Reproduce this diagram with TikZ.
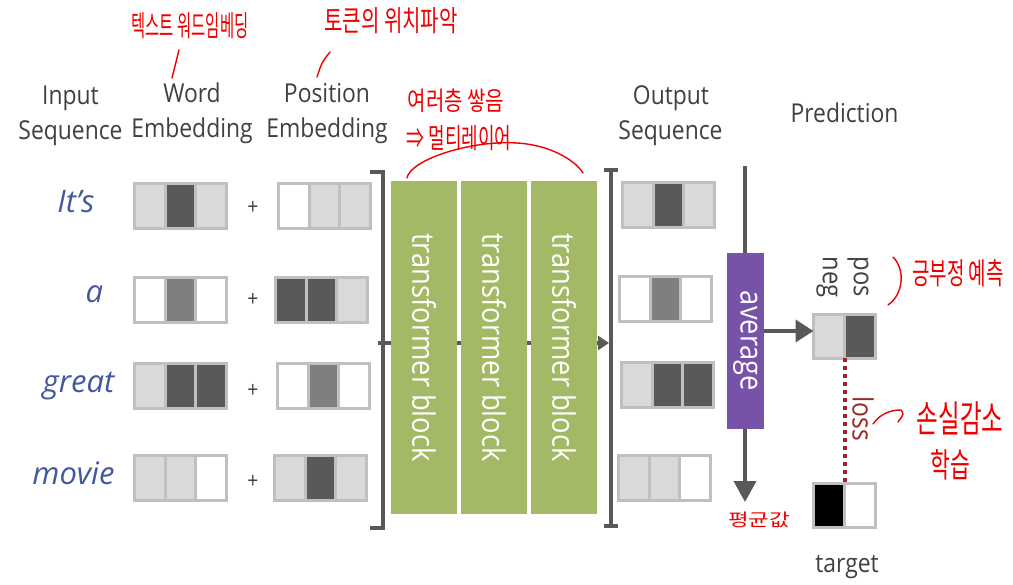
\documentclass[tikz,border=0pt]{standalone}
\usepackage{fontspec}
\setmainfont{Open Sans}[FakeStretch=0.88]
\newfontfamily\wordfont{Open Sans}
\newfontfamily\kor{Noto Sans CJK KR}
\usetikzlibrary{arrows.meta}
\definecolor{txt}{HTML}{404040}
\definecolor{wblue}{RGB}{66,89,160}
\definecolor{cellb}{HTML}{BFBFBF}
\definecolor{clight}{HTML}{D9D9D9}
\definecolor{cdark}{HTML}{595959}
\definecolor{cmid}{HTML}{7F7F7F}
\definecolor{tgreen}{RGB}{164,185,102}
\definecolor{apurple}{RGB}{118,82,168}
\definecolor{lossred}{RGB}{157,40,40}
\definecolor{annot}{RGB}{238,0,0}
\definecolor{lgray}{HTML}{595959}
\tikzset{
  cell/.style={draw=cellb, line width=3pt, minimum width=30.7pt, minimum height=45pt, inner sep=0pt, outer sep=0pt},
  pcell/.style={draw=cellb, line width=3pt, minimum width=31pt, minimum height=44pt, inner sep=0pt, outer sep=0pt},
  hdr/.style={text=txt, font=\fontsize{26}{30}\selectfont, anchor=base, inner sep=0pt},
  wordlbl/.style={text=wblue, font=\wordfont\itshape\fontsize{31}{36}\selectfont, anchor=base, inner sep=0pt},
  plussign/.style={text=txt, font=\fontsize{22}{24}\selectfont, inner sep=0pt},
  tblock/.style={fill=tgreen, rotate=-90, minimum width=333.3pt, minimum height=65.7pt, inner sep=0pt, text=white, font=\fontsize{31}{36}\selectfont},
  avgbox/.style={fill=apurple, rotate=-90, minimum width=176.6pt, minimum height=37.3pt, inner sep=0pt, text=white, font=\fontsize{31}{36}\selectfont},
  rlabel/.style={rotate=-90, inner sep=0pt, text=txt, font=\fontsize{27}{30}\selectfont},
  bracketline/.style={draw=lgray, line width=4pt},
  flowline/.style={draw=lgray, line width=4pt},
  annotext/.style={text=annot, inner sep=0pt, font=\kor\fontsize{20}{22}\selectfont},
  annostroke/.style={draw=annot, line width=1.4pt, line cap=round},
}
% name, left, top, colour1, colour2, colour3
\newcommand\vecrow[6]{%
  \node[cell,fill=#4] (#1a) at ({#2+16.85},{#3+24}) {};
  \node[cell,fill=#5] (#1b) at ({#2+47.55},{#3+24}) {};
  \node[cell,fill=#6] (#1c) at ({#2+78.25},{#3+24}) {};}
\begin{document}
\begin{tikzpicture}[x=1pt,y=-1pt]
\useasboundingbox (0,0) rectangle (1013,585);

% headers
\node[hdr] (hin1) at (70.5,105) {Input};
\node[hdr] (hin2) at (70.5,140) {Sequence};
\node[hdr] (hwe1) at (192,103) {Word};
\node[hdr] (hwe2) at (192,138) {Embedding};
\node[hdr] (hpe1) at (327,103) {Position};
\node[hdr] (hpe2) at (327,138) {Embedding};
\node[hdr] (hout1) at (671,105) {Output};
\node[hdr] (hout2) at (670.5,140) {Sequence};
\node[hdr] (hpred) at (844.5,123) {Prediction};

% input words
\node[wordlbl] (w1) at (76,213) {It’s};
\node[wordlbl] (w2) at (94.5,303) {a};
\node[wordlbl] (w3) at (78.5,393) {great};
\node[wordlbl] (w4) at (73.5,485) {movie};

% word embeddings
\vecrow{we1}{133}{182}{clight}{cdark}{clight}
\vecrow{we2}{133}{276}{white}{cmid}{white}
\vecrow{we3}{133}{362}{clight}{cdark}{cdark}
\vecrow{we4}{133}{454}{clight}{clight}{white}

% plus signs
\node[plussign] (p1) at (253,208) {+};
\node[plussign] (p2) at (253,300) {+};
\node[plussign] (p3) at (253,390.5) {+};
\node[plussign] (p4) at (253,481.5) {+};

% position embeddings
\vecrow{pe1}{277}{182}{white}{clight}{clight}
\vecrow{pe2}{274}{276}{cdark}{cdark}{clight}
\vecrow{pe3}{276}{362}{white}{cmid}{white}
\vecrow{pe4}{273}{454}{clight}{cdark}{clight}

% brackets and main flow
\draw[bracketline] (370,172) -- (383,172) -- (383,528) -- (370,528);
\draw[bracketline] (604,170) -- (618,170);
\draw[bracketline] (611,170) -- (611,526);
\draw[bracketline] (604,526) -- (618,526);
\coordinate (lb) at (378,343);
\coordinate (rb) at (609,343);
\draw[flowline,-{Triangle[length=11pt,width=14pt]}] (lb) -- (rb);

% transformer blocks
\node[tblock] (tb1) at (424,347.5) {transformer block};
\node[tblock] (tb2) at (494,347.5) {transformer block};
\node[tblock] (tb3) at (564,347.5) {transformer block};

% output sequence
\vecrow{os1}{621}{181}{clight}{cdark}{clight}
\vecrow{os2}{618}{275}{white}{cmid}{white}
\vecrow{os3}{620}{361}{clight}{cdark}{cdark}
\vecrow{os4}{617}{454}{clight}{clight}{white}

% average
\coordinate (avgtop) at (745,166);
\coordinate (avgbot) at (745,502);
\draw[flowline,-{Triangle[length=21pt,width=22pt]}] (avgtop) -- (avgbot);
\node[avgbox] (avg) at (745.3,341) {average};

% prediction
\node[pcell,fill=clight] (pa) at (829,336.5) {};
\node[pcell,fill=cdark] (pb) at (860,336.5) {};
\node[rlabel] (lneg) at (827,277) {neg};
\node[rlabel] (lpos) at (858,277) {pos};
\draw[flowline,-{Triangle[length=18pt,width=22pt]}] ([yshift=10pt]avg.north) -- ([yshift=5.5pt]pa.west);

% target
\node[pcell,fill=black] (ta) at (829,505.5) {};
\node[pcell,fill=white] (tbx) at (860,505.5) {};
\node[hdr] (htarget) at (847,572) {target};
\draw[draw=lossred, line width=4pt, dash pattern=on 4pt off 4pt] (pa.south east) -- (ta.north east);
\node[rlabel, text=lossred, font=\fontsize{28}{30}\selectfont] (lloss) at (863,419) {loss};

% handwritten annotations
\node[annotext] (an1) at (190,26) {\scalebox{0.77}[1.45]{텍스트 워드임베딩}};
\draw[annostroke] (179,50) -- (172,78);
\node[annotext] (an2) at (391,21) {\scalebox{1.0}[1.45]{토큰의 위치파악}};
\draw[annostroke] (330,52) .. controls (322,62) .. (317,77);
\node[annotext] (an3) at (456,101) {\scalebox{1.0}[1.3]{여러층 쌓음}};
\node[annotext] (an4) at (459,138) {\scalebox{0.9}[1.4]{⇒ 멀티레이어}};
\draw[annostroke] (407,178) .. controls (410,160) and (470,140) .. (517,143)
  .. controls (550,145) and (575,160) .. (583,173);
\draw[annostroke] (893,257) .. controls (906,270) and (903,295) .. (888,305);
\node[annotext] (an5) at (958,273) {\scalebox{0.95}[1.5]{긍부정 예측}};
\draw[annostroke] (873,424) .. controls (880,414) and (890,410) .. (901,410)
  .. controls (904,414) .. (898,422);
\node[annotext, font=\kor\fontsize{24}{26}\selectfont] (an6) at (960,418) {\scalebox{0.98}[1.55]{손실감소}};
\node[annotext, font=\kor\fontsize{24}{26}\selectfont] (an7) at (950,465) {\scalebox{0.9}[1.4]{학습}};
\node[annotext, font=\kor\fontsize{16}{18}\selectfont] (an8) at (759,520) {\scalebox{1.4}[1.1]{평균값}};
\end{tikzpicture}
\end{document}
